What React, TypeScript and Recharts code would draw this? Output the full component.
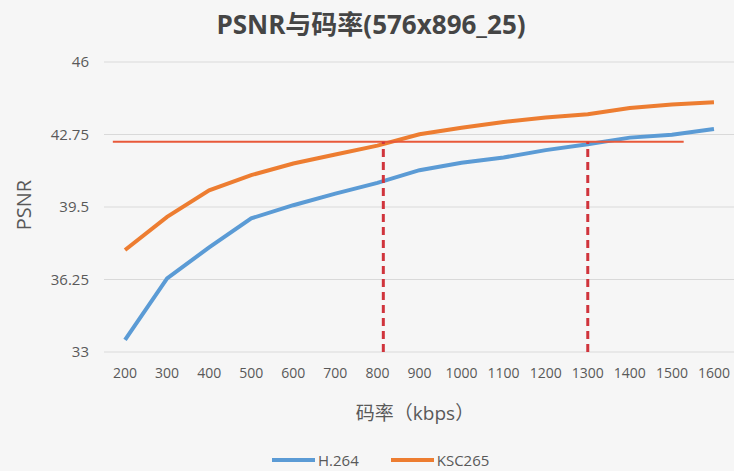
import React from 'react';
import { LineChart, Line, XAxis, YAxis, CartesianGrid, ReferenceLine } from 'recharts';

const bitrates = [200, 300, 400, 500, 600, 700, 800, 900, 1000, 1100, 1200, 1300, 1400, 1500, 1600];
const h264 = [33.54, 36.3, 37.69, 38.99, 39.58, 40.1, 40.58, 41.15, 41.48, 41.72, 42.05, 42.31, 42.61, 42.74, 43.0];
const ksc265 = [37.57, 39.06, 40.25, 40.93, 41.45, 41.85, 42.25, 42.76, 43.05, 43.31, 43.51, 43.66, 43.94, 44.1, 44.2];
const yTicks = [33, 36.25, 39.5, 42.75, 46];
const targetPsnr = 42.42;
const crossBitrates = [814, 1300];

const data = bitrates.map((b, i) => ({ rate: b, h264: h264[i], ksc265: ksc265[i] }));

const FONT = "'Open Sans', 'Noto Sans CJK SC', sans-serif";
const GRAY = '#595959';

const App: React.FC = () => {
  return (
    <div style={{ position: 'absolute', left: 0, top: 0, width: 734, height: 471, overflow: 'hidden', background: '#f6f6f6', fontFamily: FONT }}>
      <div style={{ position: 'absolute', left: 0, top: 6, width: 742, textAlign: 'center', fontSize: 26, fontWeight: 700, color: '#454545', lineHeight: '36px' }}>
        PSNR与码率(576x896_25)
      </div>

      <LineChart width={735} height={471} data={data} margin={{ top: 62, right: 0, left: 0, bottom: 89 }}>
        <CartesianGrid vertical={false} stroke="#d9d9d9" strokeWidth={1.2} />
        <XAxis
          dataKey="rate"
          type="number"
          domain={[150, 1650]}
          ticks={bitrates}
          interval={0}
          height={30}
          axisLine={false}
          tickLine={false}
          tickMargin={10}
          tick={{ fill: GRAY, fontSize: 14, fontFamily: FONT }}
        />
        <YAxis
          domain={[33, 46]}
          ticks={yTicks}
          width={104}
          axisLine={false}
          tickLine={false}
          tickMargin={9}
          tick={{ fill: GRAY, fontSize: 15, fontFamily: FONT }}
        />
        <Line type="linear" dataKey="h264" stroke="#5b9bd5" strokeWidth={4} dot={false} isAnimationActive={false} />
        <Line type="linear" dataKey="ksc265" stroke="#ed7d31" strokeWidth={4} dot={false} isAnimationActive={false} />
        <ReferenceLine
          segment={[{ x: 171, y: targetPsnr }, { x: 1528, y: targetPsnr }]}
          stroke="#e8593a"
          strokeWidth={2}
        />
        {crossBitrates.map((x) => (
          <ReferenceLine
            key={x}
            segment={[{ x, y: 33 }, { x, y: targetPsnr }]}
            stroke="#d0343c"
            strokeWidth={3}
            strokeDasharray="8 5"
          />
        ))}
      </LineChart>

      <div style={{ position: 'absolute', left: 23, top: 205, transform: 'translate(-50%, -50%) rotate(-90deg)', fontSize: 20, color: GRAY, whiteSpace: 'nowrap' }}>
        PSNR
      </div>
      <div style={{ position: 'absolute', left: 415, top: 412, transform: 'translate(-50%, -50%)', fontSize: 19, color: GRAY, whiteSpace: 'nowrap' }}>
        码率（kbps）
      </div>

      <div style={{ position: 'absolute', left: 272, top: 451, height: 18, lineHeight: '18px', display: 'flex', alignItems: 'center', fontSize: 15, color: GRAY, whiteSpace: 'nowrap' }}>
        <span style={{ display: 'inline-block', width: 43, height: 4, background: '#5b9bd5', marginRight: 3 }} />
        <span style={{ marginRight: 32 }}>H.264</span>
        <span style={{ display: 'inline-block', width: 43, height: 4, background: '#ed7d31', marginRight: 3 }} />
        <span>KSC265</span>
      </div>
    </div>
  );
};

export default App;
